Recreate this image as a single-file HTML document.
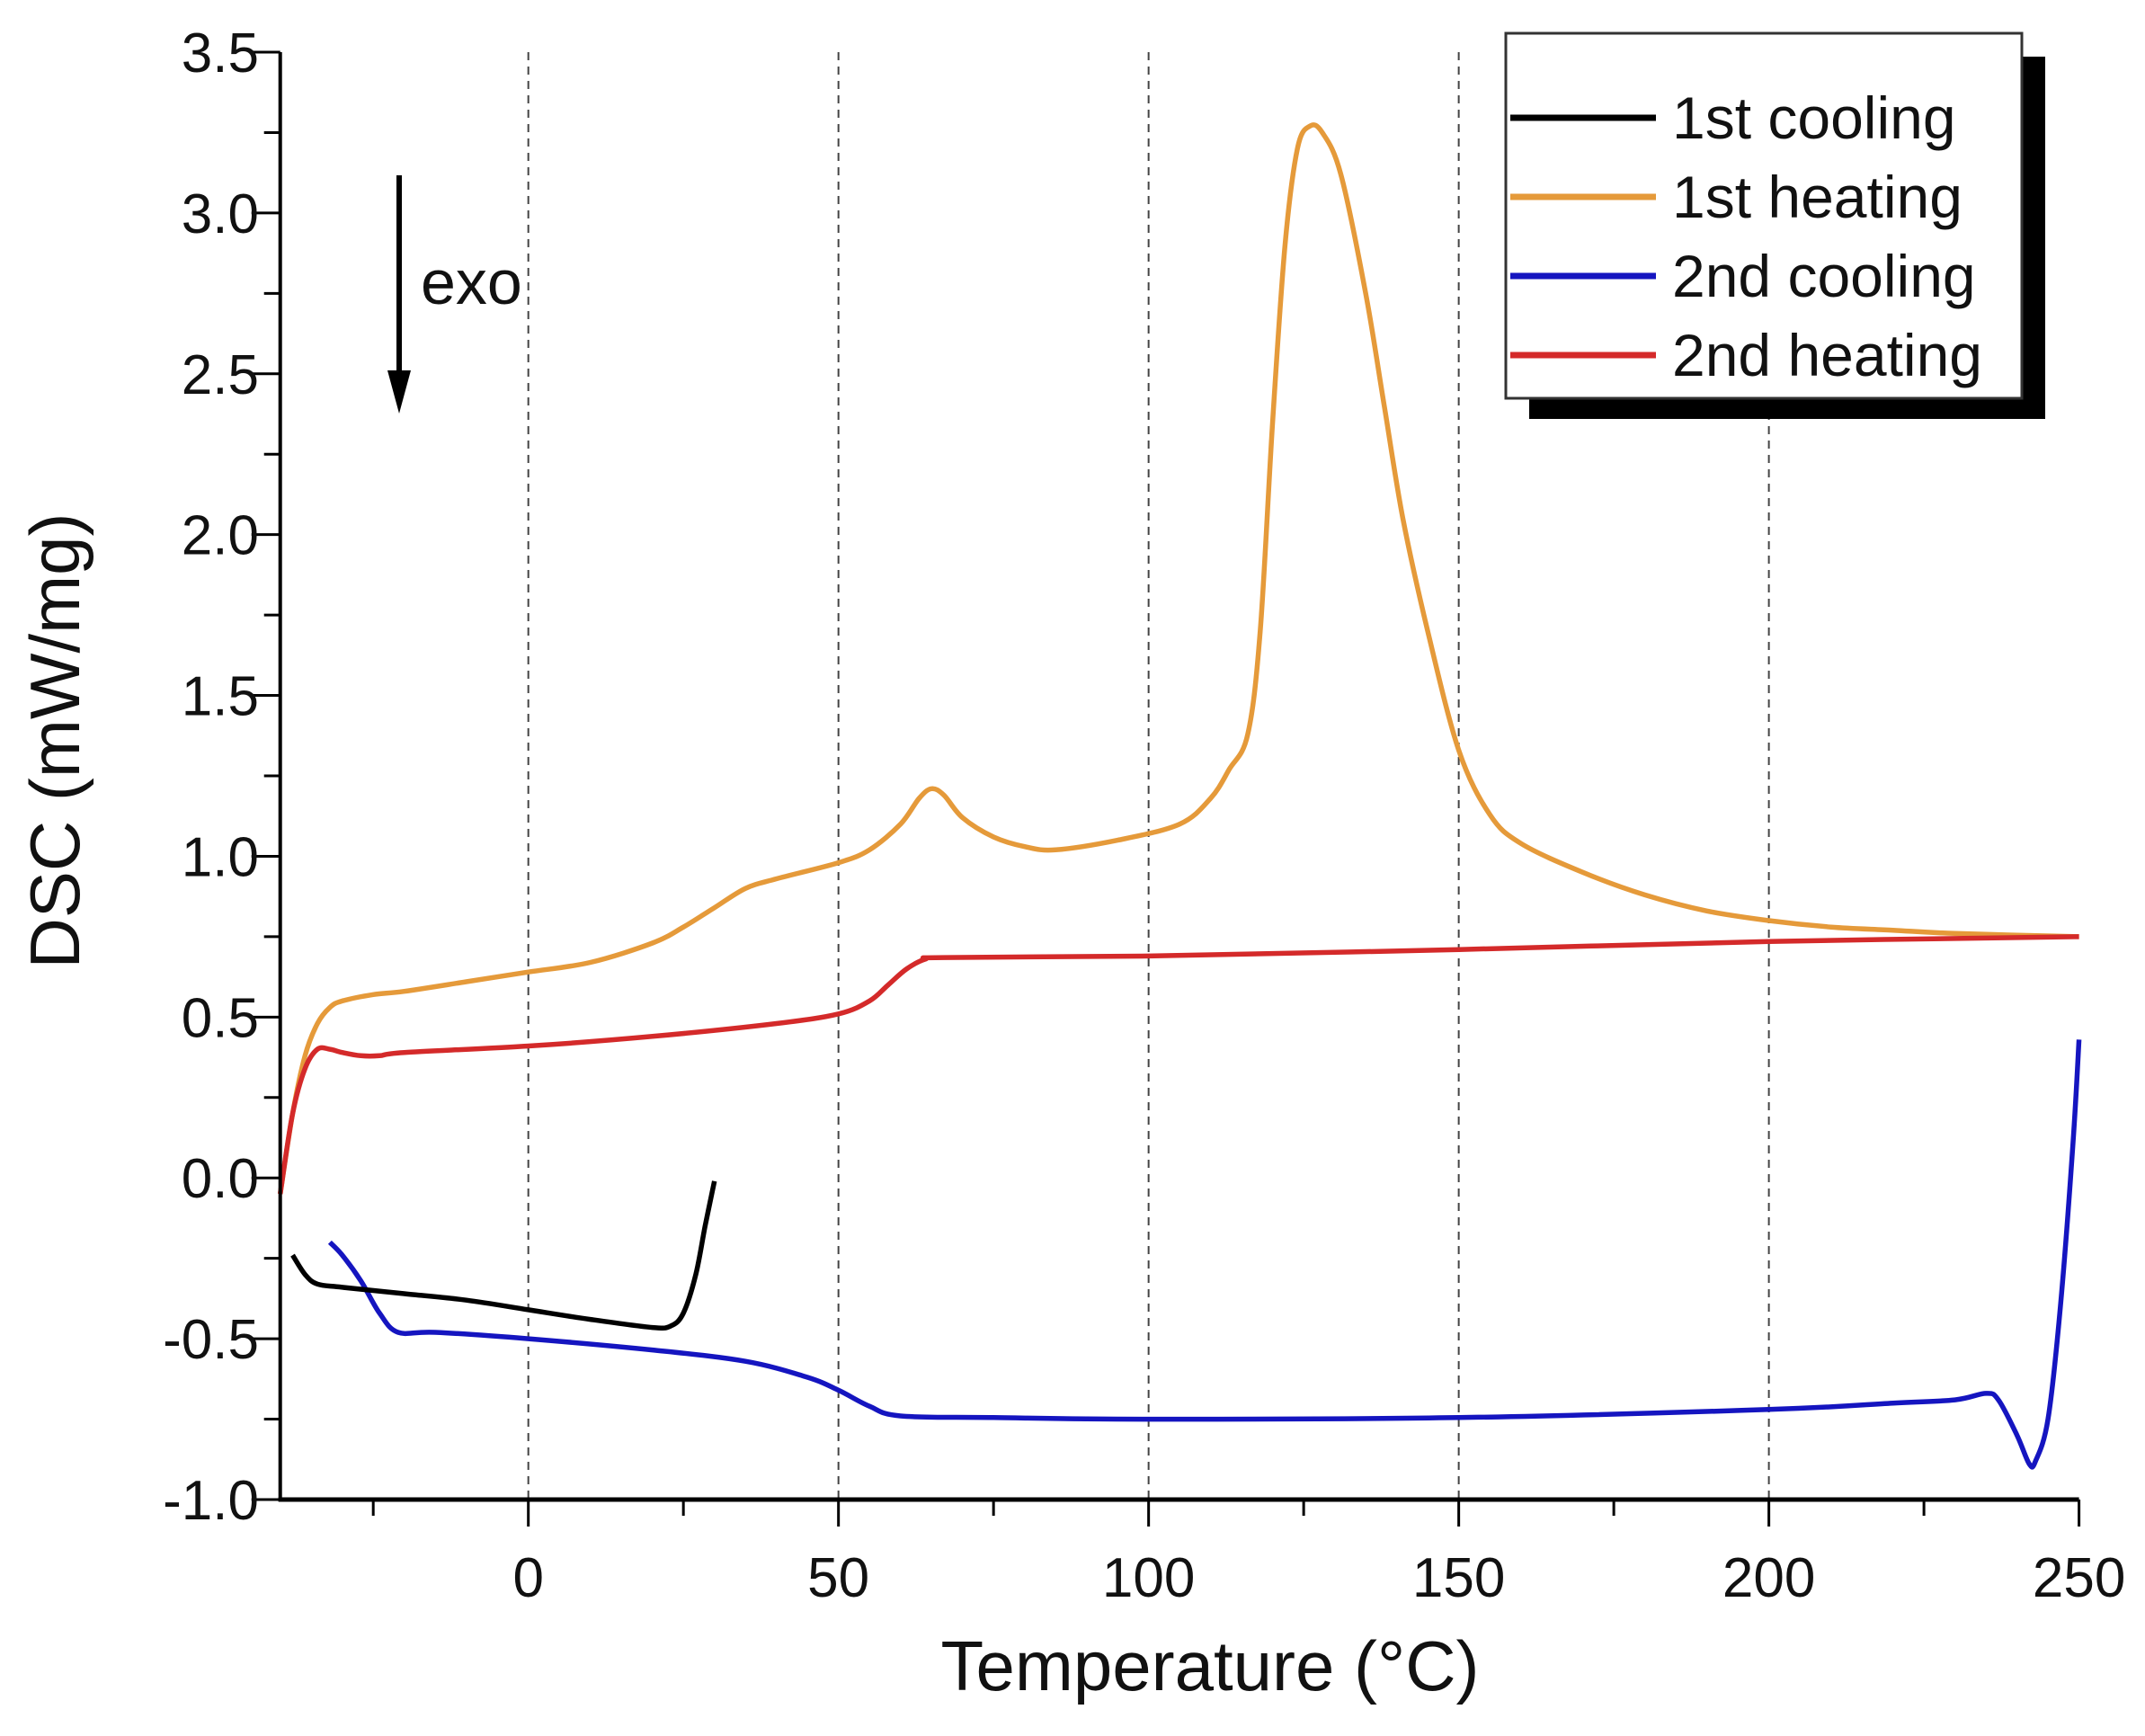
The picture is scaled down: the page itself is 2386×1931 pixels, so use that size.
<!DOCTYPE html>
<html><head><meta charset="utf-8"><style>
html,body{margin:0;padding:0;background:#fff;}
svg{display:block;font-family:"Liberation Sans",Arial,sans-serif;}
</style></head><body>
<svg id="chart" width="2386" height="1931" viewBox="0 0 2386 1931" xmlns="http://www.w3.org/2000/svg">
<rect width="2386" height="1931" fill="#fff"/>
<g id="grid"></g>
<g id="series"></g>
<g id="axes"></g>
<text x="0" y="0" transform="translate(88,824) rotate(-90)" text-anchor="middle" font-size="78" fill="#111">DSC (mW/mg)</text>
<text x="1346" y="1880" text-anchor="middle" font-size="78" fill="#111">Temperature (°C)</text>
<g>
<line x1="444" y1="195" x2="444" y2="420" stroke="#000" stroke-width="6"/>
<polygon points="431,412 457,412 444,460" fill="#000"/>
<text x="468" y="338" font-size="70" fill="#111">exo</text>
</g>
<g>
<rect x="1701" y="63" width="574" height="403" fill="#000"/>
<rect x="1675" y="37" width="574" height="406" fill="#fff" stroke="#333" stroke-width="3"/>
<g><line x1="1680" y1="131" x2="1842" y2="131" stroke="#000" stroke-width="7"/><text x="1860" y="154" font-size="66" fill="#111">1st cooling</text></g>
<g><line x1="1680" y1="219" x2="1842" y2="219" stroke="#e59a3a" stroke-width="7"/><text x="1860" y="242" font-size="66" fill="#111">1st heating</text></g>
<g><line x1="1680" y1="307" x2="1842" y2="307" stroke="#1515c0" stroke-width="7"/><text x="1860" y="330" font-size="66" fill="#111">2nd cooling</text></g>
<g><line x1="1680" y1="395" x2="1842" y2="395" stroke="#d42a2a" stroke-width="7"/><text x="1860" y="418" font-size="66" fill="#111">2nd heating</text></g>
</g>
</svg>
<script>
const xTicks=[0,50,100,150,200,250];
const yTicks=[-1.0,-0.5,0.0,0.5,1.0,1.5,2.0,2.5,3.0,3.5];
const heat1T=[-40,-38,-36,-34,-32,-30,-25,-20,-10,0,10,20,25,30,35,40,50,55,60,63,65,67,70,75,80,85,95,105,110,113,116,118,120,122,124,126,128,131,135,138,141,145,150,155,160,170,180,190,200,210,220,230,250];
const heat1V=[-0.05,0.2,0.38,0.48,0.53,0.55,0.57,0.58,0.61,0.64,0.67,0.73,0.78,0.84,0.9,0.93,0.98,1.02,1.1,1.18,1.21,1.19,1.12,1.06,1.03,1.02,1.05,1.1,1.18,1.27,1.38,1.7,2.35,2.9,3.2,3.27,3.25,3.12,2.75,2.4,2.05,1.7,1.33,1.13,1.04,0.95,0.88,0.83,0.8,0.78,0.77,0.76,0.75];
const heat2T=[-40,-38,-36,-34,-32,-30,-27,-24,-20,0,20,40,50,55,58,61,64,67,100,150,200,250];
const heat2V=[-0.05,0.2,0.34,0.4,0.4,0.39,0.38,0.38,0.39,0.41,0.44,0.48,0.51,0.55,0.6,0.65,0.68,0.685,0.69,0.71,0.735,0.75];
const cool1T=[-38,-36,-34,-30,-20,-10,0,10,20,23,25,27,28.5,30];
const cool1V=[-0.24,-0.3,-0.33,-0.34,-0.36,-0.38,-0.41,-0.44,-0.465,-0.46,-0.42,-0.3,-0.15,-0.01];
const cool2T=[-32,-30,-27,-24,-21,-15,0,20,35,45,50,55,60,75,100,150,200,220,230,235,237,240,242,243,245,247,249,250];
const cool2V=[-0.2,-0.24,-0.32,-0.42,-0.48,-0.48,-0.5,-0.535,-0.57,-0.62,-0.66,-0.71,-0.74,-0.745,-0.75,-0.745,-0.72,-0.7,-0.69,-0.67,-0.69,-0.8,-0.89,-0.88,-0.75,-0.4,0.1,0.43];

const X0=311.7,X1=2312.6,XMIN=-40,XMAX=250;
const Y0=1668,Y1=58,YMIN=-1.0,YMAX=3.5;
function sx(t){return X0+(t-XMIN)/(XMAX-XMIN)*(X1-X0);}
function sy(v){return Y0-(v-YMIN)/(YMAX-YMIN)*(Y0-Y1);}
const NS="http://www.w3.org/2000/svg";
function mk(tag,attrs,parent){const e=document.createElementNS(NS,tag);for(const k in attrs)e.setAttribute(k,attrs[k]);parent.appendChild(e);return e;}
const grid=document.getElementById('grid'),axes=document.getElementById('axes'),series=document.getElementById('series');

for(const t of xTicks){ if(t===250) continue;
  const g=mk('line',{x1:sx(t),x2:sx(t),y1:Y1,y2:Y0,stroke:'#444','stroke-width':2,'stroke-dasharray':'9,7'},grid);
  
  
}
const ya=mk('line',{x1:X0,x2:X0,y1:Y1,y2:Y0+2,stroke:'#000','stroke-width':4},axes);


const xa=mk('line',{x1:X0-2,x2:X1,y1:Y0,y2:Y0,stroke:'#000','stroke-width':5},axes);


for(let t=-25;t<=250;t+=25){
  const major=(t%50===0);
  const l=mk('line',{x1:sx(t),x2:sx(t),y1:Y0,y2:Y0+(major?30:18),stroke:'#000','stroke-width':3},axes);
  
  
}
for(const t of xTicks){
  const tx=mk('text',{x:sx(t),y:1776,'text-anchor':'middle','font-size':62,fill:'#111'},axes);
  tx.textContent=String(t);
  
  
}
for(let v=-1.0;v<=3.5001;v+=0.25){
  const major=Math.abs(v*2-Math.round(v*2))<1e-6;
  const l=mk('line',{x1:X0-(major?32:18),x2:X0,y1:sy(v),y2:sy(v),stroke:'#000','stroke-width':3},axes);
  
  
}
for(const v of yTicks){
  const tx=mk('text',{x:288,y:sy(v)+22,'text-anchor':'end','font-size':62,fill:'#111'},axes);
  tx.textContent=v.toFixed(1);
  
  
}
function pathFrom(T,V){
  const p=T.map((t,i)=>[sx(t),sy(V[i])]);
  let d='M'+p[0][0].toFixed(1)+','+p[0][1].toFixed(1);
  for(let i=0;i<p.length-1;i++){
    const p0=p[Math.max(0,i-1)],p1=p[i],p2=p[i+1],p3=p[Math.min(p.length-1,i+2)];
    const c1=[p1[0]+(p2[0]-p0[0])/6,p1[1]+(p2[1]-p0[1])/6];
    const c2=[p2[0]-(p3[0]-p1[0])/6,p2[1]-(p3[1]-p1[1])/6];
    d+=' C'+c1[0].toFixed(1)+','+c1[1].toFixed(1)+' '+c2[0].toFixed(1)+','+c2[1].toFixed(1)+' '+p2[0].toFixed(1)+','+p2[1].toFixed(1);
  }
  return d;
}
const s1=mk('path',{d:pathFrom(cool2T,cool2V),fill:'none',stroke:'#1515c0','stroke-width':5.5,'stroke-linejoin':'round'},series);


const s2=mk('path',{d:pathFrom(cool1T,cool1V),fill:'none',stroke:'#000','stroke-width':5.5,'stroke-linejoin':'round'},series);


const s3=mk('path',{d:pathFrom(heat1T,heat1V),fill:'none',stroke:'#e59a3a','stroke-width':5.5,'stroke-linejoin':'round'},series);


const s4=mk('path',{d:pathFrom(heat2T,heat2V),fill:'none',stroke:'#d42a2a','stroke-width':5.5,'stroke-linejoin':'round'},series);


</script>
</body></html>
